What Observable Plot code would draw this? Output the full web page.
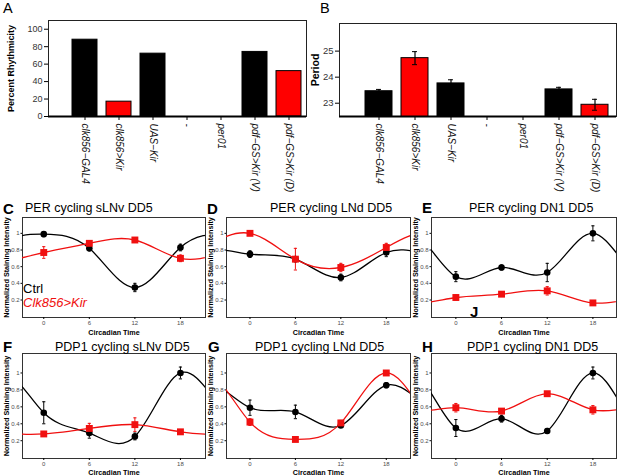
<!DOCTYPE html>
<html><head><meta charset="utf-8">
<script src="https://cdn.jsdelivr.net/npm/d3@7"></script>
<script src="https://cdn.jsdelivr.net/npm/@observablehq/plot@0.6"></script>
<style>
html,body{margin:0;padding:0;background:#fff;}
#fig{position:relative;width:617px;height:476px;overflow:hidden;font-family:"Liberation Sans",Arial,sans-serif;}
.panel{position:absolute;}
.panel svg{overflow:visible;}
.t{position:absolute;white-space:nowrap;line-height:1;color:#000;}
.panel g[aria-label="x-axis label"] text,.panel g[aria-label="y-axis label"] text{font-weight:bold;fill:#000;}
.small g[aria-label="x-axis label"] text,.small g[aria-label="y-axis label"] text{font-size:7.2px;}
.pa g[aria-label="y-axis label"] text{font-size:9px;}
.pb g[aria-label="y-axis label"] text{font-size:10.5px;}
</style></head><body><div id="fig"></div>
<script>
// ---------- data ----------
const genotypes = ["clk856−GAL4", "clk856>Kir", "UAS−Kir", "-", "per01", "pdf−GS>Kir (V)", "pdf−GS>Kir (D)"];
const genotypeGroup = ["control", "Kir", "control", "control", "control", "control", "Kir"];
const rhythmicity = [88, 17, 72, 0, 0, 74, 52];
const periodMean = [23.46, 24.73, 23.76, null, null, 23.53, 22.94];
const periodSem = [0.07, 0.25, 0.14, null, null, 0.08, 0.21];
const rhythmTicks = [0, 20, 40, 60, 80, 100];
const periodTicks = [23, 24, 25];
const periodAxisMin = 22.49;

const circadianTime = [0, 6, 12, 18];
const cyclePeriod = 24;
const intensityTicks = [0.2, 0.4, 0.6, 0.8, 1];

const perSLNvCtrl = [0.99, 0.82, 0.35, 0.83];
const perSLNvCtrlErr = [0.03, 0.03, 0.05, 0.04];
const perSLNvKir = [0.77, 0.88, 0.92, 0.70];
const perSLNvKirErr = [0.07, 0.02, 0.03, 0.04];

const perLNdCtrl = [0.75, 0.69, 0.47, 0.77];
const perLNdCtrlErr = [0.04, 0.03, 0.04, 0.05];
const perLNdKir = [1.0, 0.69, 0.59, 0.83];
const perLNdKirErr = [0.01, 0.13, 0.05, 0.05];

const perDN1Ctrl = [0.48, 0.59, 0.53, 1.0];
const perDN1CtrlErr = [0.06, 0.03, 0.11, 0.09];
const perDN1Kir = [0.23, 0.27, 0.31, 0.165];
const perDN1KirErr = [0.03, 0.02, 0.05, 0.01];

const pdpSLNvCtrl = [0.53, 0.29, 0.25, 1.0];
const pdpSLNvCtrlErr = [0.13, 0.06, 0.04, 0.07];
const pdpSLNvKir = [0.28, 0.345, 0.39, 0.305];
const pdpSLNvKirErr = [0.02, 0.06, 0.08, 0.02];

const pdpLNdCtrl = [0.59, 0.54, 0.38, 0.855];
const pdpLNdCtrlErr = [0.09, 0.08, 0.02, 0.03];
const pdpLNdKir = [0.42, 0.215, 0.41, 1.0];
const pdpLNdKirErr = [0.04, 0.01, 0.03, 0.01];

const pdpDN1Ctrl = [0.35, 0.46, 0.315, 1.0];
const pdpDN1CtrlErr = [0.10, 0.04, 0.03, 0.07];
const pdpDN1Kir = [0.59, 0.55, 0.755, 0.565];
const pdpDN1KirErr = [0.05, 0.03, 0.01, 0.05];

// ---------- helpers ----------
const FONT = '"Liberation Sans", Arial, sans-serif';
const fig = document.getElementById("fig");
function place(node, left, top, cls) {
  const d = document.createElement("div");
  d.className = "panel " + (cls || "");
  d.style.left = left + "px"; d.style.top = top + "px";
  d.appendChild(node); fig.appendChild(d);
}
function text(str, left, top, style) {
  const d = document.createElement("div");
  d.className = "t"; d.textContent = str;
  d.style.left = left + "px"; d.style.top = top + "px";
  Object.assign(d.style, style || {});
  fig.appendChild(d);
}

// ---------- A: percent rhythmicity ----------
const aData = genotypes.map((g, i) => ({genotype: g, group: genotypeGroup[i], value: rhythmicity[i]}));
place(Plot.plot({
  width: 310, height: 200, marginLeft: 48, marginRight: 4, marginTop: 20, marginBottom: 84,
  style: {background: "transparent", overflow: "visible", fontFamily: FONT},
  x: {domain: genotypes, paddingInner: 0.267, paddingOuter: 0.4165, align: 0.81, label: null},
  y: {domain: [0, 110], label: "Percent Rhythmicity"},
  color: {domain: ["control", "Kir"], range: ["#000", "#ff0000"]},
  marks: [
    Plot.frame({stroke: "#222"}),
    Plot.barY(aData, {x: "genotype", y: "value", fill: "group", stroke: "#000", strokeWidth: 1}),
    Plot.ruleY([0], {stroke: "#000", strokeWidth: 2}),
    Plot.axisX({tickRotate: 90, tickSize: 4, tickPadding: 3, fontSize: 10, fontStyle: "italic", fill: "#111", label: null}),
    Plot.axisY({ticks: rhythmTicks, tickFormat: d => String(d), tickSize: 4, tickPadding: 2, fontSize: 9, fill: "#333",
      label: "Percent Rhythmicity", labelAnchor: "center", labelOffset: 41, labelArrow: "none"})
  ]
}), 0, 0, "pa");

// ---------- B: period ----------
const bData = genotypes.map((g, i) => ({genotype: g, group: genotypeGroup[i], mean: periodMean[i], sem: periodSem[i]}))
  .filter(d => d.mean != null);
place(Plot.plot({
  width: 307, height: 200, marginLeft: 29, marginRight: 1, marginTop: 23, marginBottom: 84,
  style: {background: "transparent", overflow: "visible", fontFamily: FONT},
  x: {domain: genotypes, paddingInner: 0.24, paddingOuter: 0.424, align: 0.77, label: null},
  y: {domain: [periodAxisMin, 26.06], label: "Period"},
  color: {domain: ["control", "Kir"], range: ["#000", "#ff0000"]},
  marks: [
    Plot.frame({stroke: "#222"}),
    Plot.barY(bData, {x: "genotype", y: "mean", fill: "group", stroke: "#000", strokeWidth: 1, clip: true}),
    Plot.ruleX(bData, {x: "genotype", y1: d => d.mean - d.sem, y2: d => d.mean + d.sem, stroke: "#000", strokeWidth: 1.2}),
    Plot.tickY(bData, {x: "genotype", y: d => d.mean + d.sem, stroke: "#000", insetLeft: 11, insetRight: 11}),
    Plot.tickY(bData, {x: "genotype", y: d => d.mean - d.sem, stroke: "#000", insetLeft: 11, insetRight: 11}),
    Plot.ruleY([periodAxisMin], {stroke: "#000", strokeWidth: 2}),
    Plot.axisX({tickRotate: 90, tickSize: 4, tickPadding: 3, fontSize: 10, fontStyle: "italic", fill: "#111", label: null}),
    Plot.axisY({ticks: periodTicks, tickFormat: d => String(d), tickSize: 4, tickPadding: 2, fontSize: 9.5, fill: "#333",
      label: "Period", labelAnchor: "center", labelOffset: 28, labelArrow: "none"})
  ]
}), 310, 0, "pb");

// ---------- C–H: cycling panels ----------
const capSymbol = {draw(ctx, size) { const w = Math.sqrt(size / Math.PI); ctx.moveTo(-w, 0); ctx.lineTo(w, 0); }};
const RED = "#f01010";
function cyclePanel(c) {
  const pts = [];
  for (const [g, vals, errs] of [["Ctrl", c.ctrl, c.ctrlErr], ["Kir", c.kir, c.kirErr]])
    circadianTime.forEach((t, i) => pts.push({t, v: vals[i], lo: vals[i] - errs[i], hi: vals[i] + errs[i], g}));
  const curveData = [];
  for (const k of [-1, 0, 1]) for (const p of pts) curveData.push({t: p.t + k * cyclePeriod, v: p.v, g: p.g});
  curveData.sort((a, b) => a.t - b.t);
  return Plot.plot({
    width: c.width, height: c.height, marginLeft: c.marginLeft, marginRight: 1,
    marginTop: 17, marginBottom: c.marginBottom,
    style: {background: "transparent", overflow: "visible", fontFamily: FONT},
    x: {domain: c.xDomain, label: "Circadian Time"},
    y: {domain: c.yDomain, label: "Normalized Staining Intensity"},
    color: {domain: ["Ctrl", "Kir"], range: ["#000", RED]},
    marks: [
      Plot.frame({stroke: "#333"}),
      Plot.line(curveData, {x: "t", y: "v", stroke: "g", curve: "natural", clip: true, strokeWidth: 1.3}),
      Plot.ruleX(pts, {x: "t", y1: "lo", y2: "hi", stroke: "g", strokeWidth: 1}),
      Plot.dot(pts, {x: "t", y: "hi", symbol: capSymbol, r: 1.6, stroke: "g", fill: "none", strokeWidth: 1}),
      Plot.dot(pts, {x: "t", y: "lo", symbol: capSymbol, r: 1.6, stroke: "g", fill: "none", strokeWidth: 1}),
      Plot.dot(pts.filter(d => d.g === "Ctrl"), {x: "t", y: "v", fill: "#000", r: 3.3}),
      Plot.dot(pts.filter(d => d.g === "Kir"), {x: "t", y: "v", symbol: "square", fill: RED, r: 3.9}),
      Plot.axisX({ticks: circadianTime, tickSize: 2, tickPadding: 1.5, fontSize: 6, fill: "#4d4d4d",
        label: "Circadian Time", labelAnchor: "center", labelOffset: c.xLabelOffset, labelArrow: "none"}),
      Plot.axisY({ticks: intensityTicks, tickFormat: d => String(d), tickSize: 1.5, tickPadding: 1.5, fontSize: 6, fill: "#4d4d4d",
        label: "Normalized Staining Intensity", labelAnchor: "center", labelOffset: 18.5, labelArrow: "none"})
    ]
  });
}
const cols = [
  {left: 0, width: 206, marginLeft: 22, xDomain: [-2.8, 21.3]},
  {left: 205, width: 206, marginLeft: 21, xDomain: [-3.1, 21.2]},
  {left: 410, width: 207, marginLeft: 21, xDomain: [-3.2, 21.1]}
];
const rows = [
  {top: 200, height: 136, marginBottom: 19, yDomain: [-0.01, 1.19], xLabelOffset: 17.5},
  {top: 336, height: 140, marginBottom: 18, yDomain: [-0.01, 1.23], xLabelOffset: 16}
];
const series = [
  [[perSLNvCtrl, perSLNvCtrlErr, perSLNvKir, perSLNvKirErr], [perLNdCtrl, perLNdCtrlErr, perLNdKir, perLNdKirErr], [perDN1Ctrl, perDN1CtrlErr, perDN1Kir, perDN1KirErr]],
  [[pdpSLNvCtrl, pdpSLNvCtrlErr, pdpSLNvKir, pdpSLNvKirErr], [pdpLNdCtrl, pdpLNdCtrlErr, pdpLNdKir, pdpLNdKirErr], [pdpDN1Ctrl, pdpDN1CtrlErr, pdpDN1Kir, pdpDN1KirErr]]
];
rows.forEach((r, ri) => cols.forEach((c, ci) => {
  const [ctrl, ctrlErr, kir, kirErr] = series[ri][ci];
  place(cyclePanel({...c, ...r, ctrl, ctrlErr, kir, kirErr}), c.left, r.top, "small");
}));

// ---------- text ----------
const letterBold = {fontSize: "15px", fontWeight: "bold"};
text("A", 3, 1, {fontSize: "14.5px"});
text("B", 320, 1, {fontSize: "14.5px"});
text("C", 3, 201, letterBold);
text("D", 207, 201, letterBold);
text("E", 422, 200, letterBold);
text("F", 3, 339, letterBold);
text("G", 208, 339, letterBold);
text("H", 422, 339, letterBold);
const titleStyle = {fontSize: "12.5px"};
text("PER cycling sLNv DD5", 25, 202, titleStyle);
text("PER cycling LNd DD5", 270, 202, titleStyle);
text("PER cycling DN1 DD5", 469, 202, titleStyle);
text("PDP1 cycling sLNv DD5", 55, 340.5, titleStyle);
text("PDP1 cycling LNd DD5", 255, 340.5, titleStyle);
text("PDP1 cycling DN1 DD5", 467, 340.5, titleStyle);
text("Ctrl", 23, 282, {fontSize: "13px"});
text("Clk856>Kir", 23, 296, {fontSize: "13px", fontStyle: "italic", color: RED});
text("J", 470, 304, {fontSize: "15px", fontWeight: "bold"});
</script></body></html>
